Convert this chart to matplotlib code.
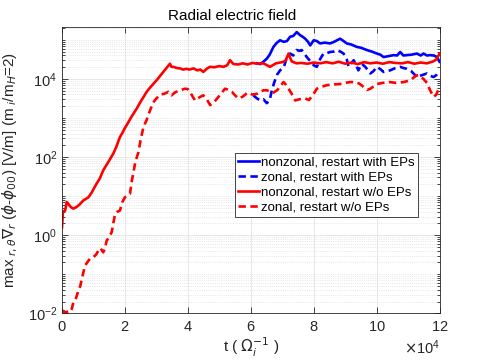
import numpy as np
import matplotlib
matplotlib.use("Agg")
import matplotlib.pyplot as plt
from matplotlib.ticker import ScalarFormatter, FixedLocator, NullFormatter

plt.rcParams['font.family'] = ['Liberation Sans', 'DejaVu Sans']
plt.rcParams['mathtext.fontset'] = 'dejavusans'

# time in units of 1e4 / Omega_i, values as log10 of the field
t_red_solid = [0, 0.03, 0.1, 0.15, 0.2, 0.28, 0.36, 0.46, 0.55, 0.68, 0.76, 0.84, 0.95, 1.05, 1.1, 1.2,
               1.31, 1.4, 1.47, 1.55, 1.63, 1.72, 1.84, 1.92, 1.99, 2.1, 2.2, 2.27, 2.38, 2.5, 2.6, 2.69,
               2.8, 2.9, 3.01, 3.1, 3.22, 3.32, 3.43, 3.48, 3.54, 3.65, 3.75, 3.85, 3.95, 4.05, 4.18, 4.3,
               4.4, 4.49, 4.6, 4.7, 4.85, 5.0, 5.13, 5.25, 5.34, 5.45, 5.6, 5.75, 5.9, 6.05, 6.2, 6.4,
               6.61, 6.8, 7.0, 7.1, 7.2, 7.3, 7.45, 7.6, 7.8, 8.0, 8.2, 8.4, 8.6, 8.8, 9.0, 9.2, 9.4,
               9.6, 9.8, 10.0, 10.2, 10.4, 10.6, 10.8, 11.0, 11.2, 11.4, 11.6, 11.8, 11.9, 12.0]
lg_red_solid = [0.2, 0.6, 0.63, 0.85, 0.8, 0.72, 0.68, 0.72, 0.78, 0.89, 0.93, 0.97, 1.1, 1.25, 1.32, 1.45,
                1.66, 1.78, 1.87, 1.98, 2.09, 2.25, 2.51, 2.62, 2.73, 2.88, 3.02, 3.11, 3.25, 3.42, 3.55, 3.67,
                3.78, 3.87, 3.97, 4.06, 4.18, 4.28, 4.39, 4.31, 4.31, 4.28, 4.27, 4.24, 4.26, 4.24, 4.27, 4.22,
                4.24, 4.18, 4.26, 4.31, 4.30, 4.33, 4.31, 4.35, 4.48, 4.38, 4.37, 4.40, 4.37, 4.41, 4.39, 4.40,
                4.31, 4.40, 4.43, 4.46, 4.65, 4.45, 4.40, 4.41, 4.39, 4.42, 4.40, 4.43, 4.40, 4.44, 4.39, 4.42, 4.38,
                4.43, 4.40, 4.42, 4.39, 4.43, 4.41, 4.40, 4.43, 4.39, 4.42, 4.40, 4.45, 4.50, 4.65]

t_red_dash = [0, 0.05, 0.1, 0.2, 0.25, 0.31, 0.36, 0.45, 0.52, 0.58, 0.63, 0.68, 0.73, 0.8, 0.89, 1.0,
              1.08, 1.16, 1.22, 1.31, 1.36, 1.42, 1.5, 1.58, 1.64, 1.69, 1.76, 1.84, 1.92, 2.0, 2.08, 2.16,
              2.22, 2.27, 2.32, 2.38, 2.43, 2.5, 2.59, 2.69, 2.8, 2.9, 3.0, 3.12, 3.25, 3.38, 3.48, 3.6,
              3.75, 3.91, 4.0, 4.07, 4.15, 4.23, 4.31, 4.39, 4.49, 4.6, 4.71, 4.85, 4.97, 5.08, 5.18, 5.3,
              5.4, 5.5, 5.61, 5.75, 5.9, 6.05, 6.2, 6.4, 6.51, 6.62, 6.72, 6.85, 7.04, 7.12, 7.2, 7.3,
              7.41, 7.55, 7.73, 7.85, 8.0, 8.1, 8.25, 8.42, 8.6, 8.84, 9.0, 9.16, 9.32, 9.45, 9.58, 9.7,
              9.8, 10.01, 10.2, 10.43, 10.6, 10.86, 11.0, 11.12, 11.25, 11.33, 11.49, 11.6, 11.7, 11.81,
              11.9, 11.97]
lg_red_dash = [-1.97, -1.94, -1.98, -1.95, -1.97, -1.89, -1.72, -1.6, -1.42, -1.3, -1.12, -0.95, -0.78, -0.7, -0.6, -0.56,
               -0.5, -0.39, -0.33, -0.44, -0.35, -0.14, -0.05, 0.08, 0.35, 0.55, 0.6, 0.63, 0.85, 0.97, 1.02, 1.06,
               1.4, 1.6, 1.83, 2.0, 2.13, 2.45, 2.77, 2.95, 3.2, 3.4, 3.5, 3.6, 3.62, 3.67, 3.58, 3.66,
               3.71, 3.75, 3.74, 3.67, 3.55, 3.45, 3.5, 3.54, 3.58, 3.48, 3.33, 3.42, 3.54, 3.65, 3.75, 3.72,
               3.67, 3.58, 3.5, 3.55, 3.65, 3.6, 3.62, 3.71, 3.71, 3.67, 3.65, 3.72, 3.92, 3.85, 3.75, 3.62,
               3.45, 3.48, 3.5, 3.46, 3.62, 3.75, 3.8, 3.84, 3.86, 3.87, 3.9, 3.92, 3.92, 3.88, 3.8, 3.72,
               3.75, 3.87, 3.9, 3.92, 3.9, 3.92, 3.95, 4.0, 4.08, 4.1, 4.0, 3.9, 3.71, 3.54,
               3.6, 3.75]

t_blue_solid = [6.2, 6.3, 6.4, 6.51, 6.6, 6.72, 6.82, 6.93, 7.05, 7.15, 7.25, 7.35, 7.46, 7.57, 7.65, 7.73,
                7.82, 7.89, 8.0, 8.1, 8.2, 8.35, 8.52, 8.65, 8.74, 8.84, 8.95, 9.05, 9.2, 9.37, 9.5, 9.69,
                9.85, 10.01, 10.12, 10.22, 10.35, 10.54, 10.65, 10.75, 10.85, 10.96, 11.1, 11.28, 11.4, 11.49,
                11.6, 11.7, 11.82, 11.92, 12.0]
lg_blue_solid = [4.40, 4.38, 4.44, 4.52, 4.62, 4.82, 4.92, 4.99, 4.95, 4.97, 5.08, 5.1, 5.2, 5.12, 5.08, 5.03,
                 4.95, 4.86, 4.99, 4.97, 4.91, 4.93, 4.91, 4.95, 4.99, 5.03, 4.97, 4.91, 4.88, 4.82, 4.8, 4.74,
                 4.7, 4.65, 4.62, 4.56, 4.58, 4.61, 4.6, 4.69, 4.6, 4.61, 4.62, 4.65, 4.6, 4.65,
                 4.6, 4.61, 4.6, 4.56, 4.44]

t_blue_dash = [6.08, 6.2, 6.3, 6.4, 6.51, 6.6, 6.67, 6.75, 6.83, 6.93, 7.05, 7.15, 7.25, 7.35, 7.46, 7.55,
               7.62, 7.7, 7.78, 7.9, 8.0, 8.1, 8.2, 8.31, 8.42, 8.52, 8.63, 8.74, 8.85, 8.95, 9.05, 9.11,
               9.2, 9.27, 9.35, 9.42, 9.53, 9.65, 9.8, 9.9, 10.01, 10.12, 10.22, 10.32, 10.43, 10.6, 10.75,
               10.85, 10.96, 11.1, 11.28, 11.45, 11.6, 11.7, 11.81, 11.9, 11.97]
lg_blue_dash = [3.58, 3.5, 3.45, 3.48, 3.38, 3.45, 3.71, 3.92, 4.1, 4.22, 4.3, 4.56, 4.65, 4.6, 4.74, 4.72,
                4.74, 4.65, 4.56, 4.45, 4.35, 4.31, 4.5, 4.65, 4.66, 4.69, 4.7, 4.74, 4.7, 4.65, 4.5, 4.31,
                4.4, 4.48, 4.35, 4.22, 4.39, 4.3, 4.14, 4.2, 4.31, 4.25, 4.18, 4.2, 4.22, 4.28, 4.31,
                4.28, 4.26, 4.2, 4.05, 4.1, 4.14, 4.08, 4.05, 4.1, 4.18]

labels = ['nonzonal, restart with EPs', 'zonal, restart with EPs',
          'nonzonal, restart w/o EPs', 'zonal, restart w/o EPs']

fig = plt.figure(figsize=(4.86, 3.64), dpi=100)
ax = fig.add_axes([0.1276, 0.1393, 0.7768, 0.7857])

lw = 1.9
dash = (2.8, 1.7)
ax.plot(np.array(t_blue_solid) * 1e4, 10 ** np.array(lg_blue_solid), color='#0000ff', lw=lw, label=labels[0])
ax.plot(np.array(t_blue_dash) * 1e4, 10 ** np.array(lg_blue_dash), color='#0000ff', lw=lw, dashes=dash, label=labels[1])
ax.plot(np.array(t_red_solid) * 1e4, 10 ** np.array(lg_red_solid), color='#ff0000', lw=lw, label=labels[2])
ax.plot(np.array(t_red_dash) * 1e4, 10 ** np.array(lg_red_dash), color='#ff0000', lw=lw, dashes=dash, label=labels[3])

ax.set_yscale('log')
ax.set_xlim(0, 1.2e5)
ax.set_ylim(1e-2, 2.1e5)
ax.set_xticks(np.arange(0, 1.21e5, 2e4))
ax.set_yticks([1e-2, 1, 1e2, 1e4])
minors = [k * 10.0 ** n for n in range(-2, 6) for k in range(1, 10)
          if not (k == 1 and n % 2 == 0)]
ax.yaxis.set_minor_locator(FixedLocator(minors))
ax.yaxis.set_minor_formatter(NullFormatter())
ax.xaxis.set_minor_locator(FixedLocator([]))

fmt = ScalarFormatter(useMathText=True)
fmt.set_powerlimits((4, 4))
ax.xaxis.set_major_formatter(fmt)

dk = '#262626'
for s in ax.spines.values():
    s.set_color(dk)
    s.set_linewidth(0.6)
ax.tick_params(which='both', direction='in', top=True, right=True, colors=dk, labelsize=10.5, width=0.6)
ax.tick_params(which='major', length=4)
ax.tick_params(which='minor', length=2.2)
ax.tick_params(axis='x', pad=5)
ax.grid(True, which='major', color='#e3e3e3', lw=0.6)
ax.grid(True, which='minor', axis='y', color='#d6d6d6', lw=0.5, ls=':')
ax.set_axisbelow(True)

ax.xaxis.get_offset_text().set_fontsize(10.5)
ax.xaxis.get_offset_text().set_color(dk)

ax.set_title('Radial electric field', fontsize=11, color='black', x=0.45, pad=5)
ax.set_xlabel(r't ( $\Omega_i^{-1}$ )', fontsize=11, color=dk, labelpad=1)
ax.set_ylabel(r'max$_{\ r,\theta}\nabla_r$ ($\phi$-$\phi_{00}$) [V/m] (m$_{\ i}$/m$_H$=2)',
              fontsize=11, color=dk)
ax.yaxis.set_label_coords(-0.11, 0.5)

leg = ax.legend(loc='upper left', bbox_to_anchor=(0.457, 0.559), borderaxespad=0,
                fontsize=9.5, handlelength=1.6, handletextpad=0.15, borderpad=0.25,
                labelspacing=0.2, fancybox=False, framealpha=1)
leg.get_frame().set_edgecolor('#262626')
leg.get_frame().set_linewidth(0.6)

fig.savefig('out.png', dpi=100)
